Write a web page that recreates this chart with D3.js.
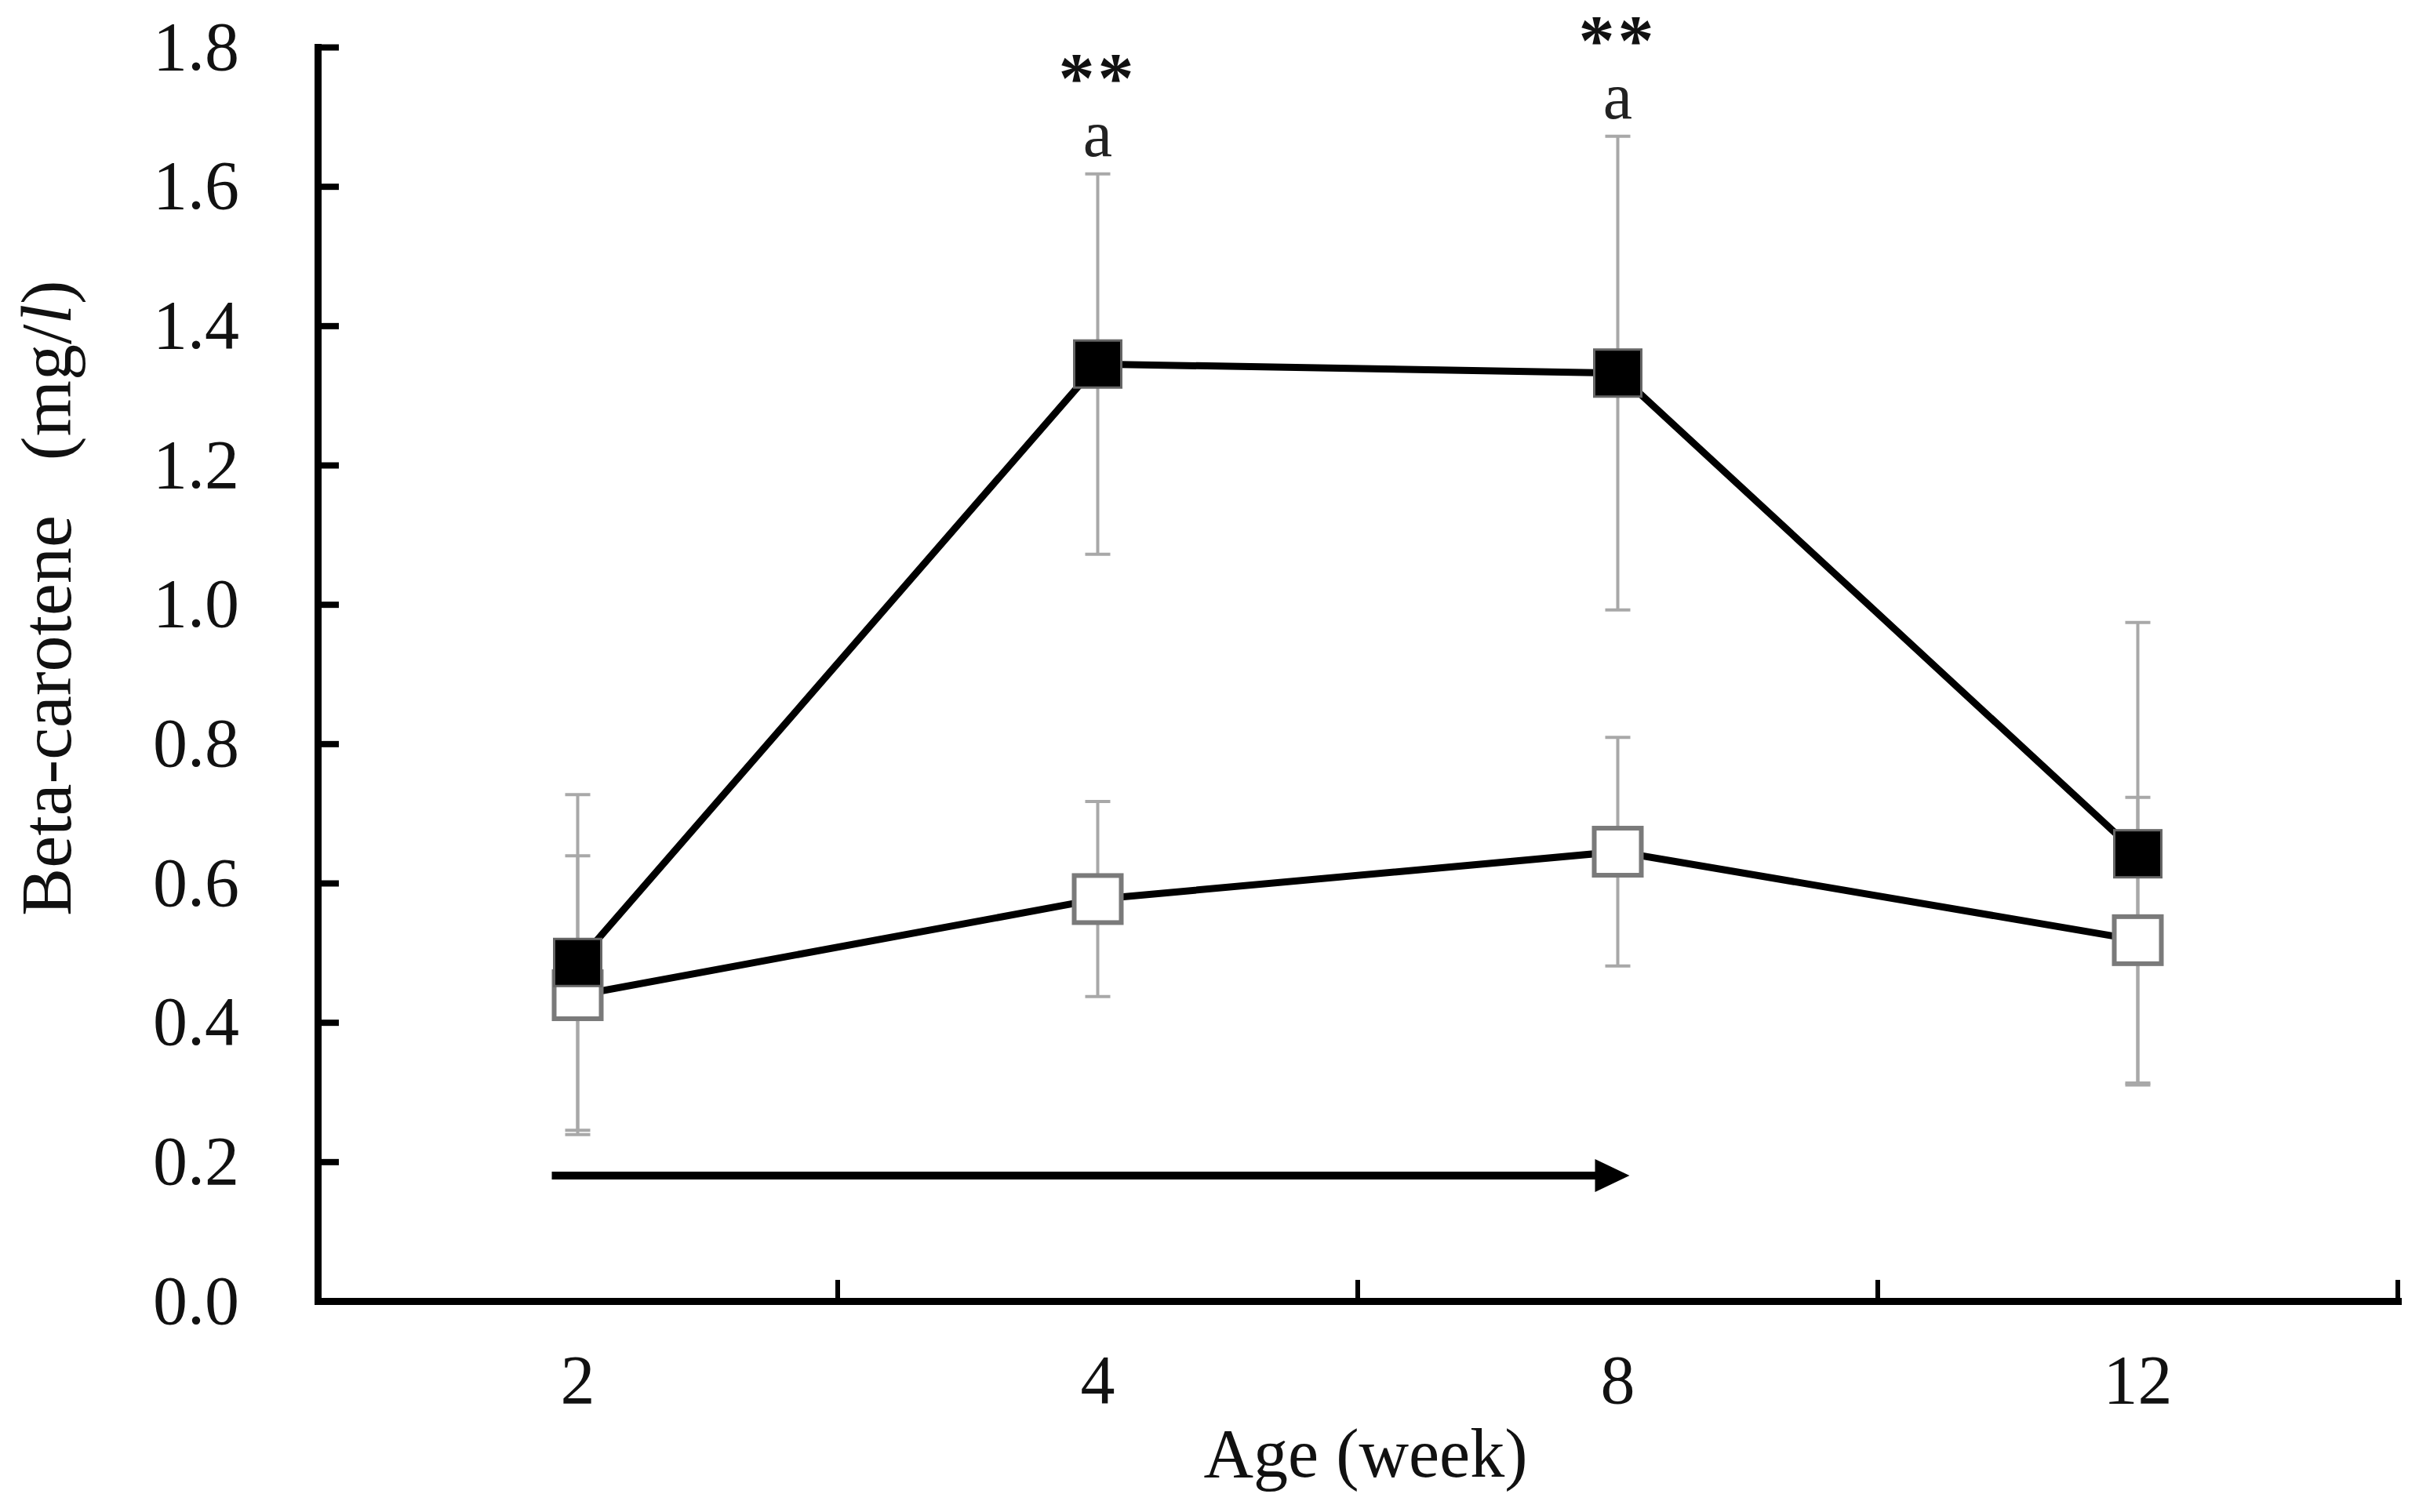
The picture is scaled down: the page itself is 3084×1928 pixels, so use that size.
<!DOCTYPE html>
<html>
<head>
<meta charset="utf-8">
<script src="https://cdn.jsdelivr.net/npm/d3@7"></script>
<style>
  body { margin: 0; background: #fff; }
  svg { display: block; background: #fff; }
</style>
</head>
<body>
<svg id="chart" width="3084" height="1928"></svg>
<script>
// data
const weeks = ["2", "4", "8", "12"];
const fedMean = [0.486, 1.345, 1.332, 0.642];
const fedSD = [0.241, 0.273, 0.340, 0.332];
const ctrlMean = [0.439, 0.577, 0.645, 0.518];
const ctrlSD = [0.200, 0.140, 0.164, 0.205];
const yTicks = [0.0, 0.2, 0.4, 0.6, 0.8, 1.0, 1.2, 1.4, 1.6, 1.8];
const sigWeeks = ["4", "8"];
const sigStars = ["**", "**"];
const sigLetters = ["a", "a"];
const arrowFrom = "2";
const arrowTo = "8";
const arrowValue = 0.18;

const FONT = "'Liberation Serif', 'DejaVu Serif', serif";

const svg = d3.select("#chart");

const x = d3.scaleBand().domain(weeks).range([405, 3057]);
const y = d3.scaleLinear().domain([0, 1.8]).range([1659, 60]);
const cx = function(w){ return x(w) + x.bandwidth() / 2; };

const fed = weeks.map(function(w, i){ return {week: w, mean: fedMean[i], sd: fedSD[i]}; });
const ctrl = weeks.map(function(w, i){ return {week: w, mean: ctrlMean[i], sd: ctrlSD[i]}; });

// y axis, ticks pointing inward
const yAxis = svg.append("g")
  .attr("transform", "translate(405,0)")
  .call(d3.axisLeft(y).tickValues(yTicks).tickFormat(d3.format(".1f"))
    .tickSizeInner(-27).tickSizeOuter(0).tickPadding(100));
yAxis.attr("font-family", FONT).attr("font-size", 88);
yAxis.select(".domain").attr("stroke", "#000").attr("stroke-width", 9).attr("stroke-linecap", "square");
yAxis.selectAll(".tick line").attr("stroke", "#000").attr("stroke-width", 8);
yAxis.selectAll(".tick text").attr("fill", "#111");

// x axis: labels at band centres, ticks on band edges
const xAxis = svg.append("g")
  .attr("transform", "translate(0,1659)")
  .call(d3.axisBottom(x).tickSize(0).tickPadding(68));
xAxis.attr("font-family", FONT).attr("font-size", 88);
xAxis.select(".domain").attr("stroke", "#000").attr("stroke-width", 9).attr("stroke-linecap", "square");
xAxis.selectAll(".tick text").attr("fill", "#111");

xAxis.selectAll(".edge")
  .data(weeks)
  .enter().append("line")
  .attr("class", "edge")
  .attr("x1", function(w){ return x(w) + x.bandwidth(); })
  .attr("x2", function(w){ return x(w) + x.bandwidth(); })
  .attr("y1", 0)
  .attr("y2", -27)
  .attr("stroke", "#000")
  .attr("stroke-width", 6);

// axis titles
const yTitle = svg.append("text")
  .attr("transform", "translate(90,1168) rotate(-90)")
  .attr("font-family", FONT)
  .attr("font-size", 92)
  .attr("fill", "#111");
yTitle.append("tspan").text("Beta-carotene");
yTitle.append("tspan").attr("dx", 70).text("(mg/");
yTitle.append("tspan").attr("font-style", "italic").text("l");
yTitle.append("tspan").text(")");

svg.append("text")
  .attr("x", 1741)
  .attr("y", 1883)
  .attr("text-anchor", "middle")
  .attr("font-family", FONT)
  .attr("font-size", 88)
  .attr("fill", "#111")
  .text("Age (week)");

// error bars
function errorBars(data, name){
  const g = svg.append("g").attr("data-name", name);
  g.selectAll("line.bar")
    .data(data).enter().append("line")
    .attr("class", "bar")
    .attr("x1", function(d){ return cx(d.week); })
    .attr("x2", function(d){ return cx(d.week); })
    .attr("y1", function(d){ return y(d.mean + d.sd); })
    .attr("y2", function(d){ return y(d.mean - d.sd); })
    .attr("stroke", "#a8a8a8")
    .attr("stroke-width", 4);
  [1, -1].forEach(function(s){
    g.selectAll("line.cap" + s)
      .data(data).enter().append("line")
      .attr("x1", function(d){ return cx(d.week) - 16; })
      .attr("x2", function(d){ return cx(d.week) + 16; })
      .attr("y1", function(d){ return y(d.mean + s * d.sd); })
      .attr("y2", function(d){ return y(d.mean + s * d.sd); })
      .attr("stroke", "#a8a8a8")
      .attr("stroke-width", 4);
  });
}
errorBars(ctrl, "ctrl-err");
errorBars(fed, "fed-err");

// lines
const line = d3.line()
  .x(function(d){ return cx(d.week); })
  .y(function(d){ return y(d.mean); });

svg.append("path")
  .datum(ctrl)
  .attr("d", line)
  .attr("fill", "none")
  .attr("stroke", "#000")
  .attr("stroke-width", 9);
svg.append("path")
  .datum(fed)
  .attr("d", line)
  .attr("fill", "none")
  .attr("stroke", "#000")
  .attr("stroke-width", 9);

// markers
const S = 60;
svg.append("g").selectAll("rect")
  .data(ctrl).enter().append("rect")
  .attr("x", function(d){ return cx(d.week) - S / 2; })
  .attr("y", function(d){ return y(d.mean) - S / 2; })
  .attr("width", S)
  .attr("height", S)
  .attr("fill", "#fff")
  .attr("stroke", "#7a7a7a")
  .attr("stroke-width", 6);
svg.append("g").selectAll("rect")
  .data(fed).enter().append("rect")
  .attr("x", function(d){ return cx(d.week) - S / 2; })
  .attr("y", function(d){ return y(d.mean) - S / 2; })
  .attr("width", S)
  .attr("height", S)
  .attr("fill", "#000")
  .attr("stroke", "#666")
  .attr("stroke-width", 3);

// significance marks above the fed group's error bars
sigWeeks.forEach(function(w, i){
  const d = fed[weeks.indexOf(w)];
  const top = y(d.mean + d.sd);
  svg.append("text")
    .attr("x", cx(w))
    .attr("y", top - 23)
    .attr("text-anchor", "middle")
    .attr("font-family", FONT)
    .attr("font-size", 84)
    .attr("fill", "#222")
    .text(sigLetters[i]);
  svg.append("text")
    .attr("x", cx(w))
    .attr("y", top - 92)
    .attr("text-anchor", "middle")
    .attr("font-family", FONT)
    .attr("font-weight", "bold")
    .attr("font-size", 92)
    .attr("letter-spacing", 4)
    .attr("fill", "#111")
    .text(sigStars[i]);
});

// treatment period arrow
const ax0 = cx(arrowFrom) - 33;
const ax1 = cx(arrowTo) + 15;
const ay = y(arrowValue);
svg.append("line")
  .attr("x1", ax0)
  .attr("x2", ax1 - 40)
  .attr("y1", ay)
  .attr("y2", ay)
  .attr("stroke", "#000")
  .attr("stroke-width", 10);
svg.append("path")
  .attr("d", d3.line()([[ax1 - 44, ay - 21], [ax1, ay], [ax1 - 44, ay + 21]]) + "Z")
  .attr("fill", "#000");
</script>
</body>
</html>
